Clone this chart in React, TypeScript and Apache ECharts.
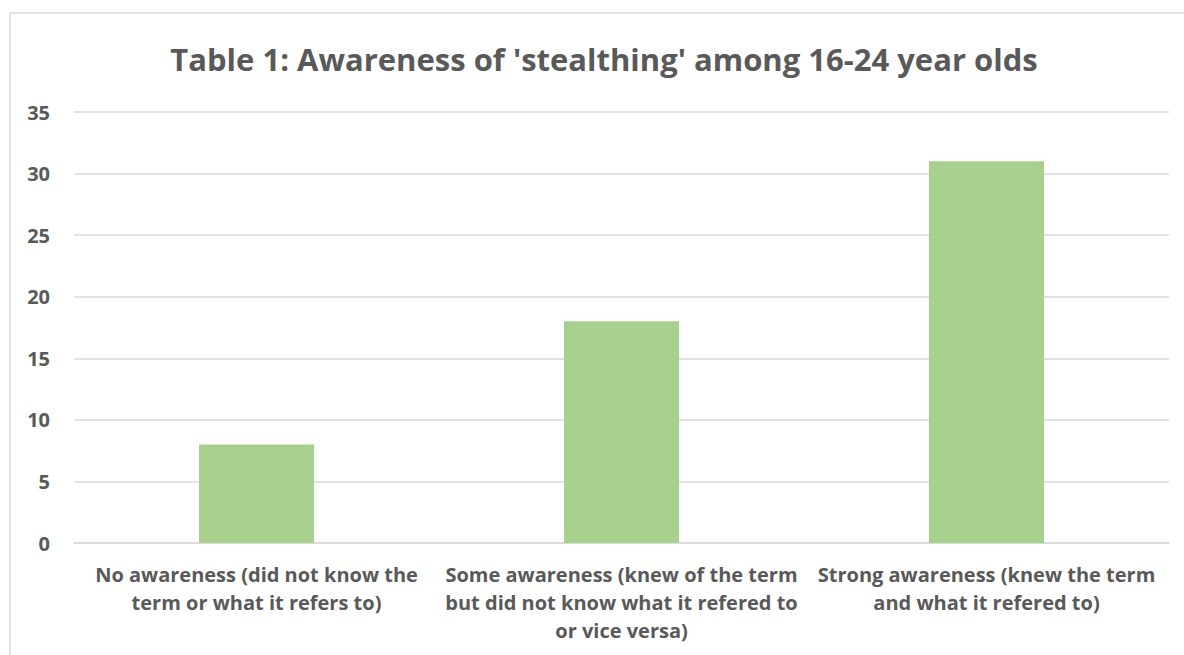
import React, { useEffect, useRef } from "react";
import * as echarts from "echarts";

// Survey responses: awareness of 'stealthing' among 16-24 year olds
const categories: string[] = [
  "No awareness (did not know the\nterm or what it refers to)",
  "Some awareness (knew of the term\nbut did not know what it refered to\nor vice versa)",
  "Strong awareness (knew the term\nand what it refered to)",
];
const responses: number[] = [8, 18, 31];
const yTicks = { min: 0, max: 35, interval: 5 };

const TITLE = "Table 1: Awareness of 'stealthing' among 16-24 year olds";
const TEXT_COLOR = "#595959";
const GRID_COLOR = "#D9D9D9";
const BAR_COLOR = "#A9D18E";
const FONT = "'Open Sans', 'Noto Sans', sans-serif";

export default function App() {
  const ref = useRef<HTMLDivElement>(null);

  useEffect(() => {
    if (!ref.current) return;
    const chart = echarts.init(ref.current, undefined, { renderer: "svg" });
    chart.setOption({
      animation: false,
      backgroundColor: "#ffffff",
      textStyle: { fontFamily: FONT },
      graphic: [
        {
          type: "rect",
          shape: { x: 10, y: 13, width: 1200, height: 700 },
          style: { fill: "none", stroke: GRID_COLOR, lineWidth: 1.5 },
          silent: true,
        },
        {
          type: "text",
          x: 604,
          y: 59,
          style: {
            text: TITLE,
            fill: TEXT_COLOR,
            font: `bold 31px ${FONT}`,
            textAlign: "center",
            textVerticalAlign: "middle",
          },
        },
      ],
      grid: { left: 74, right: 15, top: 112, bottom: 112 },
      xAxis: {
        type: "category",
        data: categories,
        axisLine: { show: true, lineStyle: { color: GRID_COLOR, width: 1.5 } },
        axisTick: { show: false },
        axisLabel: {
          interval: 0,
          margin: 17,
          color: TEXT_COLOR,
          fontWeight: "bold",
          fontSize: 20,
          lineHeight: 28,
          fontFamily: FONT,
        },
      },
      yAxis: {
        type: "value",
        min: yTicks.min,
        max: yTicks.max,
        interval: yTicks.interval,
        axisLine: { show: false },
        axisTick: { show: false },
        splitLine: { lineStyle: { color: GRID_COLOR, width: 1.5 } },
        axisLabel: {
          margin: 24,
          color: TEXT_COLOR,
          fontWeight: "bold",
          fontSize: 20,
          fontFamily: FONT,
        },
      },
      series: [
        {
          type: "bar",
          data: responses,
          barWidth: 115,
          itemStyle: { color: BAR_COLOR },
        },
      ],
    });
    return () => chart.dispose();
  }, []);

  return (
    <div
      ref={ref}
      style={{ position: "absolute", left: 0, top: 0, width: 1184, height: 655 }}
    />
  );
}
